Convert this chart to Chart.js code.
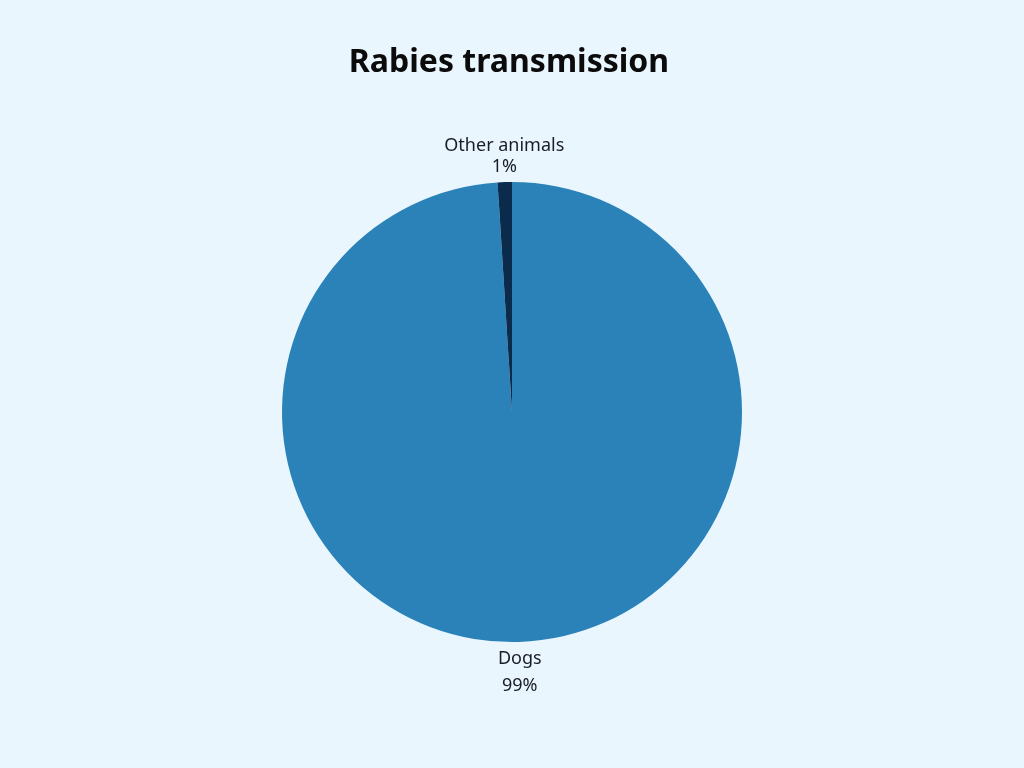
<!DOCTYPE html>
<html>
<head>
<meta charset="utf-8">
<script src="https://cdn.jsdelivr.net/npm/chart.js@4"></script>
<style>
html,body{margin:0;padding:0;background:#EAF6FE;}
#wrap{width:1024px;height:768px;position:relative;}
</style>
</head>
<body>
<div id="wrap"><canvas id="c" width="1024" height="768"></canvas></div>
<script>
const titleText = "Rabies transmission";
const categories = ["Dogs", "Other animals"];
const values = [99, 1];
const sliceColors = ["#2A82B9", "#0A2B4C"];

const labelPlugin = {
  id: 'labels',
  afterDraw(chart) {
    const ctx = chart.ctx;
    ctx.save();
    ctx.fillStyle = '#0b0b0b';
    ctx.font = 'bold 32px "Noto Sans", sans-serif';
    ctx.textAlign = 'center';
    ctx.textBaseline = 'middle';
    ctx.fillText(titleText, 509, 63);

    const meta = chart.getDatasetMeta(0);
    const total = values.reduce((a, b) => a + b, 0);
    ctx.font = '18px "Noto Sans", sans-serif';
    ctx.fillStyle = '#1a1d26';
    meta.data.forEach((arc, i) => {
      const p = arc.getProps(['x', 'y', 'startAngle', 'endAngle', 'outerRadius'], true);
      const mid = (p.startAngle + p.endAngle) / 2;
      const up = Math.sin(mid) < 0;
      const r = p.outerRadius + (up ? 15 : 17);
      const x = p.x + Math.cos(mid) * r;
      const y = p.y + Math.sin(mid) * r;
      const pct = Math.round(values[i] / total * 100) + '%';
      if (up) {
        ctx.fillText(pct, x, y);
        ctx.fillText(categories[i], x, y - 21);
      } else {
        ctx.fillText(categories[i], x, y);
        ctx.fillText(pct, x, y + 27);
      }
    });
    ctx.restore();
  }
};

new Chart(document.getElementById('c'), {
  type: 'pie',
  data: {
    labels: categories,
    datasets: [{
      data: values,
      backgroundColor: sliceColors,
      borderWidth: 0
    }]
  },
  options: {
    responsive: false,
    animation: false,
    layout: { padding: { top: 182, bottom: 126, left: 0, right: 0 } },
    plugins: {
      legend: { display: false },
      tooltip: { enabled: false },
      title: { display: false }
    }
  },
  plugins: [labelPlugin]
});
</script>
</body>
</html>
